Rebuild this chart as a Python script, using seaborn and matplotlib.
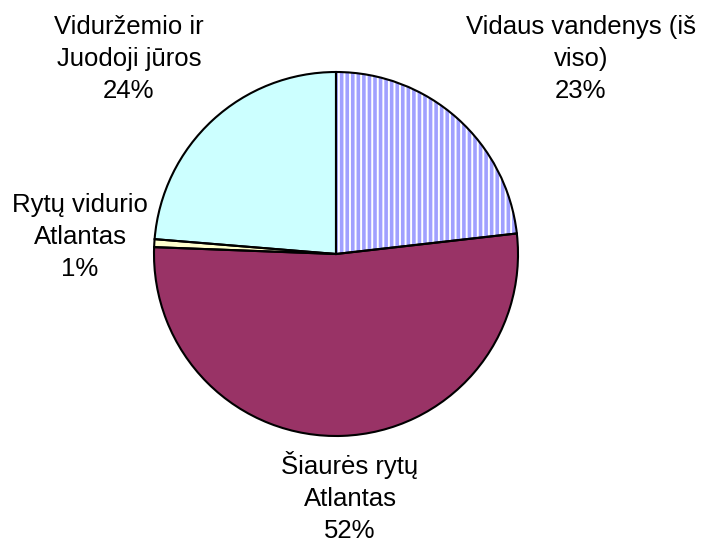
import matplotlib
matplotlib.use("Agg")
import matplotlib.pyplot as plt
import seaborn as sns

# pie data, clockwise from 12 o'clock
names = ["Vidaus vandenys (iš\nviso)", "Šiaurės rytų\nAtlantas",
         "Rytų vidurio\nAtlantas", "Viduržemio ir\nJuodoji jūros"]
shares = [23.2, 52.4, 0.7, 23.7]
shown = ["23%", "52%", "1%", "24%"]
colors = ["white", "#993366", "#FFFFCC", "#CCFFFF"]

sns.set_style("white")
plt.rcParams["font.family"] = ["Liberation Sans", "DejaVu Sans"]
plt.rcParams["hatch.linewidth"] = 2.6

fig = plt.figure(figsize=(7.01, 5.42), dpi=100)
ax = fig.add_axes([0, 0, 1, 1])

cx, cy, r = 336, 542 - 254, 182

# fills (hatch on the first slice)
wedges, _ = ax.pie(shares, colors=colors, startangle=90, counterclock=False,
                   center=(cx, cy), radius=r, frame=True,
                   wedgeprops=dict(linewidth=0))
wedges[0].set_hatch("|||")
wedges[0].set_edgecolor("#A0A0FF")
wedges[0].set_linewidth(0)

# outlines
ax.pie(shares, colors=["none"] * 4, startangle=90, counterclock=False,
       center=(cx, cy), radius=r, frame=True,
       wedgeprops=dict(fill=False, edgecolor="black", linewidth=1.5))

ax.set_xlim(0, 701)
ax.set_ylim(0, 542)
ax.set_aspect("equal")
ax.axis("off")

label_pos = [(581, 59), (350, 497), (80, 237), (129, 59)]
for name, pct, (x, y) in zip(names, shown, label_pos):
    ax.text(x, 542 - y, name + "\n" + pct, ha="center", va="center",
            multialignment="center", fontsize=18.5, linespacing=1.42,
            color="black")

fig.savefig("out.png", dpi=100)
